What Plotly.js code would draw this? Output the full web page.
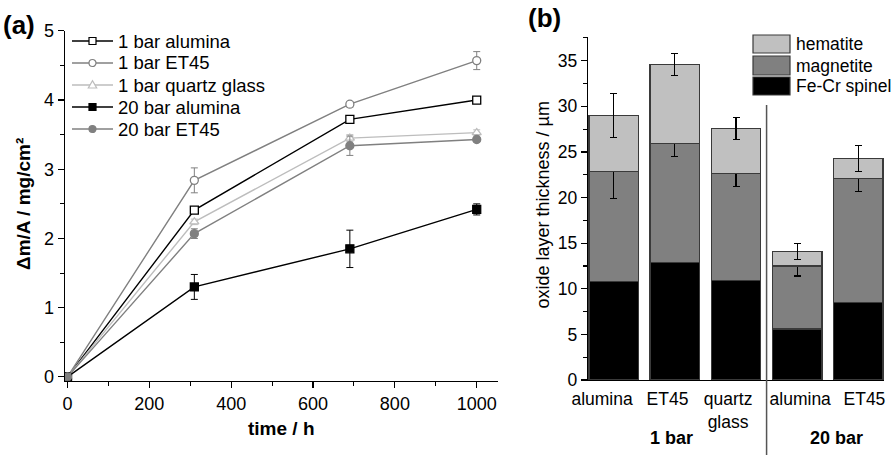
<!DOCTYPE html>
<html>
<head>
<meta charset="utf-8">
<script src="https://cdn.plot.ly/plotly-3.0.1.min.js"></script>
<style>html,body{margin:0;padding:0;background:#fff;}#chart{width:893px;height:455px;}</style>
</head>
<body>
<div id="chart"></div>
<script>
// ---- Panel (a): mass gain vs time ----
const timeH = [0, 310, 690, 1000];
const alumina1 = [0, 2.41, 3.72, 4.00];
const alumina1Err = [0, 0.03, 0.03, 0.03];
const et45_1 = [0, 2.84, 3.94, 4.57];
const et45_1Err = [0, 0.18, 0.04, 0.13];
const quartz1 = [0, 2.24, 3.45, 3.53];
const quartz1Err = [0, 0.04, 0.05, 0.04];
const alumina20 = [0, 1.30, 1.85, 2.42];
const alumina20Err = [0, 0.18, 0.27, 0.08];
const et45_20 = [0, 2.07, 3.34, 3.43];
const et45_20Err = [0, 0.07, 0.14, 0.03];
const seriesNames = ['1 bar alumina', '1 bar ET45', '1 bar quartz glass', '20 bar alumina', '20 bar ET45'];

// ---- Panel (b): oxide layer thickness ----
const samples = ['alumina', 'ET45', 'quartz<br>glass', 'alumina', 'ET45'];
const samplePos = [0, 1, 2, 3, 4];
const sampleLabelPos = [-0.19, 0.88, 1.87, 3.05, 4.1];
const spinel = [10.8, 12.9, 10.9, 5.6, 8.5];
const spinelErr = [1.0, 1.05, 0.95, 1.05, 1.2];
const magnetite = [12.1, 13.0, 11.7, 6.9, 13.6];
const magnetiteErr = [3.0, 1.4, 1.35, 1.1, 1.45];
const hematite = [6.1, 8.7, 5.0, 1.6, 2.2];
const hematiteErr = [2.4, 1.2, 1.2, 0.9, 1.45];
const layerNames = ['hematite', 'magnetite', 'Fe-Cr spinel'];

const FONT = 'Liberation Sans, Arial, sans-serif';
const BLACK = '#000000', GRAY = '#808080', LGRAY = '#bdbdbd';
const W = 893, H = 455;
const px = v => v / W;
const py = v => (H - v) / H;

const styles = [
  {color: BLACK, symbol: 'square', fill: '#ffffff'},
  {color: GRAY, symbol: 'circle', fill: '#ffffff'},
  {color: LGRAY, symbol: 'triangle-up', fill: '#ffffff'},
  {color: BLACK, symbol: 'square', fill: BLACK},
  {color: GRAY, symbol: 'circle', fill: GRAY}
];
const seriesY = [alumina1, et45_1, quartz1, alumina20, et45_20];
const seriesErr = [alumina1Err, et45_1Err, quartz1Err, alumina20Err, et45_20Err];

const traces = seriesY.map((y, i) => ({
  type: 'scatter', mode: 'lines+markers', name: seriesNames[i],
  x: timeH, y: y, xaxis: 'x', yaxis: 'y', showlegend: false,
  line: {color: styles[i].color, width: 1.4},
  marker: {symbol: styles[i].symbol, size: 8, color: styles[i].fill, line: {color: styles[i].color, width: 1.3}},
  error_y: {type: 'data', array: seriesErr[i], visible: true, color: styles[i].color, thickness: 1, width: 3.5}
}));

function barTrace(name, vals, err, color) {
  return {
    type: 'bar', name: name, x: samplePos, y: vals, xaxis: 'x2', yaxis: 'y2',
    showlegend: false,
    marker: {color: color, line: {color: '#3a3a3a', width: 1.2}},
    error_y: {type: 'data', array: err, visible: true, color: '#000000', thickness: 1.1, width: 3.5}
  };
}
const layerColors = ['#c0c0c0', '#808080', '#000000'];
traces.push(barTrace(layerNames[2], spinel, spinelErr, layerColors[2]));
traces.push(barTrace(layerNames[1], magnetite, magnetiteErr, layerColors[1]));
traces.push(barTrace(layerNames[0], hematite, hematiteErr, layerColors[0]));

const x2Dom = [px(588), px(884)];
const x2Range = [-0.42, 4.42];
const dividerX = x2Dom[0] + (2.5 - x2Range[0]) / (x2Range[1] - x2Range[0]) * (x2Dom[1] - x2Dom[0]);

const axBase = {
  showline: true, linecolor: '#000', linewidth: 1.3, showgrid: false, zeroline: false,
  ticks: 'outside', tickcolor: '#000', tickwidth: 1.2, ticklen: 6,
  tickfont: {family: FONT, size: 18, color: '#000'}, fixedrange: true
};

const shapes = [
  {type: 'line', xref: 'paper', yref: 'paper', x0: dividerX, x1: dividerX, y0: 0, y1: py(105),
   line: {color: '#555555', width: 1.5}}
];
const annotations = [
  {text: '<b>(a)</b>', xref: 'paper', yref: 'paper', x: px(1), y: py(25), xanchor: 'left', yanchor: 'middle',
   showarrow: false, font: {family: FONT, size: 26, color: '#000'}},
  {text: '<b>(b)</b>', xref: 'paper', yref: 'paper', x: px(526), y: py(18), xanchor: 'left', yanchor: 'middle',
   showarrow: false, font: {family: FONT, size: 26, color: '#000'}},
  {text: '<b>\u0394m/A / mg/cm\u00b2</b>', xref: 'paper', yref: 'paper', x: px(24), y: py(204),
   xanchor: 'center', yanchor: 'middle', textangle: -90, showarrow: false,
   font: {family: FONT, size: 19, color: '#000'}},
  {text: '<b>time / h</b>', xref: 'paper', yref: 'paper', x: px(281), y: py(428),
   xanchor: 'center', yanchor: 'middle', showarrow: false, font: {family: FONT, size: 19, color: '#000'}},
  {text: 'oxide layer thickness / \u00b5m', xref: 'paper', yref: 'paper', x: px(542.5), y: py(205),
   xanchor: 'center', yanchor: 'middle', textangle: -90, showarrow: false,
   font: {family: FONT, size: 18, color: '#000'}},
  {text: '<b>1 bar</b>', xref: 'x2', yref: 'paper', x: 0.95, y: py(438),
   xanchor: 'center', yanchor: 'middle', showarrow: false, font: {family: FONT, size: 18, color: '#000'}},
  {text: '<b>20 bar</b>', xref: 'x2', yref: 'paper', x: 3.65, y: py(438),
   xanchor: 'center', yanchor: 'middle', showarrow: false, font: {family: FONT, size: 18, color: '#000'}}
];

// legend for panel (a)
const legY = [41, 63, 85, 107, 129];
seriesNames.forEach((nm, i) => {
  const y = legY[i], st = styles[i], r = 3.5;
  shapes.push({type: 'line', xref: 'paper', yref: 'paper', x0: px(72), x1: px(113), y0: py(y), y1: py(y),
    line: {color: st.color, width: 1.4}});
  if (st.symbol === 'square') {
    shapes.push({type: 'rect', xref: 'paper', yref: 'paper', x0: px(92.5 - r), x1: px(92.5 + r), y0: py(y + r), y1: py(y - r),
      fillcolor: st.fill, line: {color: st.color, width: 1.2}});
  } else if (st.symbol === 'circle') {
    shapes.push({type: 'circle', xref: 'paper', yref: 'paper', x0: px(92.5 - r), x1: px(92.5 + r), y0: py(y + r), y1: py(y - r),
      fillcolor: st.fill, line: {color: st.color, width: 1.2}});
  } else {
    const p = 'M' + px(92.5 - 4.2) + ',' + py(y + 3) + ' L' + px(92.5 + 4.2) + ',' + py(y + 3) +
              ' L' + px(92.5) + ',' + py(y - 4.2) + ' Z';
    shapes.push({type: 'path', xref: 'paper', yref: 'paper', path: p,
      fillcolor: st.fill, line: {color: st.color, width: 1.2}});
  }
  annotations.push({text: nm, xref: 'paper', yref: 'paper', x: px(116), y: py(y), xanchor: 'left', yanchor: 'middle',
    showarrow: false, font: {family: FONT, size: 18.5, color: '#000'}});
});

// legend for panel (b)
const legBY = [[35, 53, 44], [56, 75, 65.5], [77, 95, 86]];
layerNames.forEach((nm, i) => {
  const b = legBY[i];
  shapes.push({type: 'rect', xref: 'paper', yref: 'paper', x0: px(753), x1: px(790), y0: py(b[1]), y1: py(b[0]),
    fillcolor: layerColors[i], line: {color: '#3a3a3a', width: 1.2}});
  annotations.push({text: nm, xref: 'paper', yref: 'paper', x: px(794), y: py(b[2]), xanchor: 'left', yanchor: 'middle',
    showarrow: false, font: {family: FONT, size: 17.5, color: '#000'}});
});

const layout = {
  width: W, height: H,
  margin: {l: 0, r: 0, t: 0, b: 0},
  paper_bgcolor: '#ffffff', plot_bgcolor: 'rgba(0,0,0,0)',
  font: {family: FONT, size: 17, color: '#000'},
  barmode: 'stack', bargap: 0.19,
  showlegend: false,
  xaxis: Object.assign({}, axBase, {
    domain: [px(65), px(498)], range: [-6, 1052], anchor: 'y',
    tick0: 0, dtick: 200,
    minor: {dtick: 100, ticks: 'outside', ticklen: 3.5, tickcolor: '#000', tickwidth: 1.1}
  }),
  yaxis: Object.assign({}, axBase, {
    domain: [py(380.7), py(30.5)], range: [-0.055, 5.005], anchor: 'x',
    tick0: 0, dtick: 1,
    minor: {dtick: 0.5, ticks: 'outside', ticklen: 3.5, tickcolor: '#000', tickwidth: 1.1}
  }),
  xaxis2: Object.assign({}, axBase, {
    domain: x2Dom, range: x2Range, anchor: 'y2',
    ticks: '', tickvals: sampleLabelPos, ticktext: samples, ticklabelstandoff: 3,
    tickfont: {family: FONT, size: 17.5, color: '#000'}
  }),
  yaxis2: Object.assign({}, axBase, {
    domain: [py(380), py(37)], range: [0, 37.6], anchor: 'x2',
    tick0: 0, dtick: 5,
    tickfont: {family: FONT, size: 17.5, color: '#000'},
    minor: {dtick: 2.5, ticks: 'outside', ticklen: 3.5, tickcolor: '#000', tickwidth: 1.1}
  }),
  shapes: shapes,
  annotations: annotations
};

Plotly.newPlot('chart', traces, layout, {staticPlot: true, displayModeBar: false});
</script>
</body>
</html>
